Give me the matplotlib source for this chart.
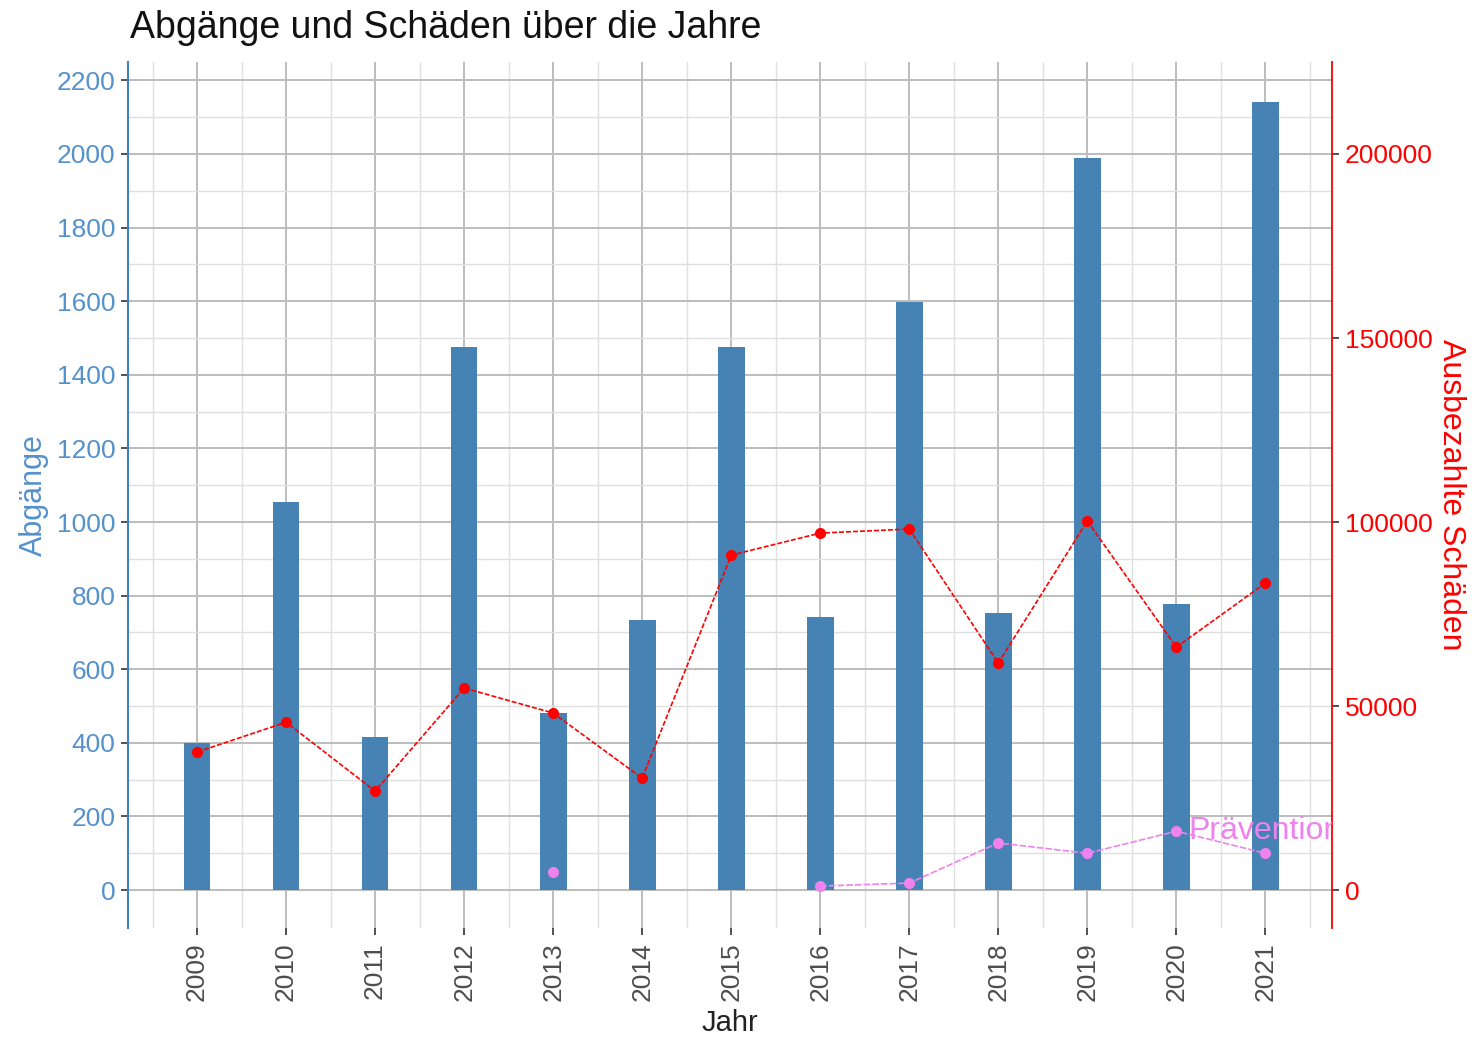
import matplotlib
matplotlib.use("Agg")
import matplotlib.pyplot as plt
import numpy as np

years = [2009, 2010, 2011, 2012, 2013, 2014, 2015, 2016, 2017, 2018, 2019, 2020, 2021]
abgaenge = [400, 1054, 416, 1475, 481, 734, 1475, 742, 1598, 753, 1989, 777, 2142]
schaeden = [37500, 45600, 26900, 54900, 48100, 30400, 91000, 97000, 98100, 61700, 100300, 66000, 83400]
praevention = [np.nan, np.nan, np.nan, np.nan, 4900, np.nan, np.nan, 1100, 1900, 12800, 10000, 16000, 10000]

left_ticks = list(range(0, 2201, 200))
right_ticks = [0, 50000, 100000, 150000, 200000]

plt.rcParams['font.family'] = ['Liberation Sans', 'DejaVu Sans']

BLUE_TXT = '#5592cc'
BAR = '#4682B4'
RED = '#ff0000'
VIOLET = '#ee82ee'

fig = plt.figure(figsize=(14.72, 10.40), dpi=100)
ax = fig.add_axes([0.087, 0.1077, 0.818, 0.8327])

ax.bar(years, abgaenge, width=0.3, color=BAR, zorder=3)
ax.set_xlim(2008.225, 2021.75)
ax.set_ylim(-103, 2250)

ax.set_yticks(left_ticks)
ax.set_yticks(np.arange(100, 2250, 200), minor=True)
ax.set_xticks(years)
ax.set_xticklabels([str(y) for y in years], rotation=90)
ax.set_xticks(np.arange(2008.5, 2021.6, 1.0), minor=True)

ax.grid(which='major', color='#bdbdbd', linewidth=1.4, zorder=0)
ax.grid(which='minor', color='#e0e0e0', linewidth=1.0, zorder=0)
ax.set_axisbelow(True)

for s in ['top', 'bottom', 'right']:
    ax.spines[s].set_visible(False)
ax.spines['left'].set_color('#3f7fc4')
ax.spines['left'].set_linewidth(1.5)

ax.tick_params(axis='y', which='major', colors='#333333', labelcolor=BLUE_TXT,
               labelsize=19, length=5, width=1.2, pad=4)
ax.tick_params(axis='x', which='major', colors='#333333', labelcolor='#4d4d4d',
               labelsize=19, length=5, width=1.2, pad=5)
ax.tick_params(which='minor', length=0)

ax.set_ylabel('Abgänge', color=BLUE_TXT, fontsize=22, labelpad=6)
ax.set_xlabel('Jahr', color='#222222', fontsize=21, labelpad=6)

ax2 = ax.twinx()
ax2.set_ylim(-103 * 100, 2250 * 100)
ax2.plot(years, schaeden, color=RED, linewidth=1.2, linestyle=(0, (3, 1.2)),
         marker='o', markersize=7, zorder=5)
ax2.plot(years, praevention, color=VIOLET, linewidth=1.2, linestyle=(0, (4, 1.2)),
         marker='o', markersize=7, zorder=5)
ax2.text(2020 + 0.14, 16000, 'Prävention', color=VIOLET, fontsize=23,
         ha='left', va='center', clip_on=True, zorder=6)

ax2.set_yticks(right_ticks)
for s in ['top', 'bottom', 'left']:
    ax2.spines[s].set_visible(False)
ax2.spines['right'].set_color(RED)
ax2.spines['right'].set_linewidth(1.3)
ax2.tick_params(axis='y', colors='#333333', labelcolor=RED, labelsize=19,
                length=5, width=1.2, pad=4)
ax2.set_ylabel('Ausbezahlte Schäden', color=RED, fontsize=23, rotation=270,
               labelpad=24)

fig.text(0.088, 0.973, 'Abgänge und Schäden über die Jahre', fontsize=27,
         color='#111111', ha='left', va='center')

fig.savefig('out.png', dpi=100, facecolor='white')
